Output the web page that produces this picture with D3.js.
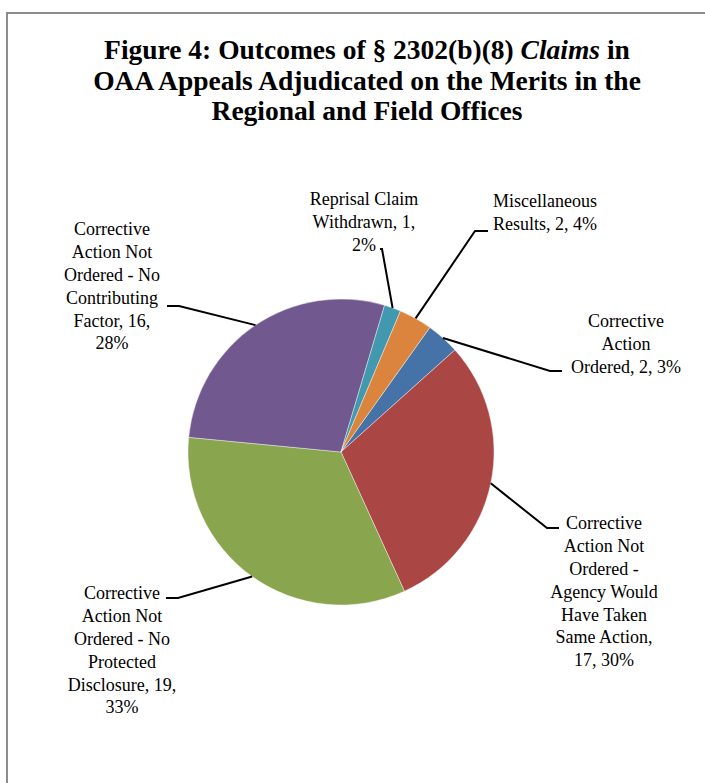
<!DOCTYPE html>
<meta charset="utf-8">
<style>

body {
  margin: 0;
  background: #fff;
}

text {
  font-family: "Liberation Serif", "Times New Roman", serif;
  fill: #000;
}

.label {
  font-size: 18px;
}

.title {
  font-size: 27.5px;
  font-weight: bold;
}

.leader {
  fill: none;
  stroke: #000;
  stroke-width: 2px;
}

</style>
<body>
<script src="https://d3js.org/d3.v7.min.js"></script>
<script>

// slice data, clockwise from the first slice
var categories = [
  "Corrective Action Ordered",
  "Corrective Action Not Ordered - Agency Would Have Taken Same Action",
  "Corrective Action Not Ordered - No Protected Disclosure",
  "Corrective Action Not Ordered - No Contributing Factor",
  "Reprisal Claim Withdrawn",
  "Miscellaneous Results"
];

var counts = [2, 17, 19, 16, 1, 2];

var percentLabels = ["3%", "30%", "33%", "28%", "2%", "4%"];

// label text as it wraps in the original
var labelLines = [
  ["Corrective", "Action", "Ordered, 2, 3%"],
  ["Corrective", "Action Not", "Ordered -", "Agency Would", "Have Taken", "Same Action,", "17, 30%"],
  ["Corrective", "Action Not", "Ordered - No", "Protected", "Disclosure, 19,", "33%"],
  ["Corrective", "Action Not", "Ordered - No", "Contributing", "Factor, 16,", "28%"],
  ["Reprisal Claim", "Withdrawn, 1,", "2%"],
  ["Miscellaneous", "Results, 2, 4%"]
];

var titleLines = [
  ["Figure 4: Outcomes of § 2302(b)(8) ", "Claims", " in"],
  ["OAA Appeals Adjudicated on the Merits in the"],
  ["Regional and Field Offices"]
];

var colors = ["#4572A7", "#AA4643", "#89A54E", "#71588F", "#4198AF", "#DB843D"];

var width = 705,
    height = 783;

var cx = 341, cy = 452, radius = 153;

var startAngle = 35.5 * Math.PI / 180;

// label placement: text centre x, first line y, leader elbow and end
var labelLayout = [
  {x: 626, y: 321, elbow: [550, 371], end: [562, 371]},
  {x: 604, y: 523, elbow: [547, 528], end: [559, 528]},
  {x: 122, y: 593, elbow: [178, 598], end: [166, 598]},
  {x: 112, y: 229, elbow: [179, 306], end: [167, 306]},
  {x: 364, y: 199, elbow: [382, 249], end: [380, 249]},
  {x: 545, y: 201, elbow: [475, 231], end: [488, 231]}
];

var lineHeight = 22.8;

var svg = d3.select("body").append("svg")
    .attr("width", width)
    .attr("height", height);

// chart frame
svg.append("path")
    .attr("d", "M7," + height + "V13H" + width)
    .attr("fill", "none")
    .attr("stroke", "#8c8c8c")
    .attr("stroke-width", 2);

// title
var title = svg.append("text")
    .attr("class", "title")
    .attr("text-anchor", "middle");

titleLines.forEach(function(parts, i) {
  var line = title.append("tspan")
      .attr("x", 367)
      .attr("y", 59 + i * 30.5);
  parts.forEach(function(p) {
    line.append("tspan")
        .style("font-style", p === "Claims" ? "italic" : null)
        .text(p);
  });
});

var pie = d3.pie()
    .sort(null)
    .value(d => d)
    .startAngle(startAngle)
    .endAngle(startAngle + 2 * Math.PI);

var arcs = pie(counts);

var arc = d3.arc()
    .innerRadius(0)
    .outerRadius(radius);

var g = svg.append("g")
    .attr("transform", `translate(${cx},${cy})`);

g.selectAll("path.slice")
    .data(arcs)
  .enter().append("path")
    .attr("class", "slice")
    .attr("d", arc)
    .attr("fill", (d, i) => colors[i])
    .attr("stroke", "#fff")
    .attr("stroke-width", 0.4);

// leader lines from slice edge to label
svg.selectAll("path.leader")
    .data(arcs)
  .enter().append("path")
    .attr("class", "leader")
    .attr("d", function(d, i) {
      var a = (d.startAngle + d.endAngle) / 2;
      var p0 = [cx + radius * Math.sin(a), cy - radius * Math.cos(a)];
      var L = labelLayout[i];
      return d3.line()([p0, L.elbow, L.end]);
    });

// labels
svg.selectAll("text.label")
    .data(labelLines)
  .enter().append("text")
    .attr("class", "label")
    .attr("text-anchor", "middle")
    .each(function(lines, i) {
      var L = labelLayout[i];
      d3.select(this).selectAll("tspan")
          .data(lines)
        .enter().append("tspan")
          .attr("x", L.x)
          .attr("y", (d, j) => L.y + j * lineHeight)
          .attr("dy", "0.35em")
          .text(d => d);
    });

</script>
